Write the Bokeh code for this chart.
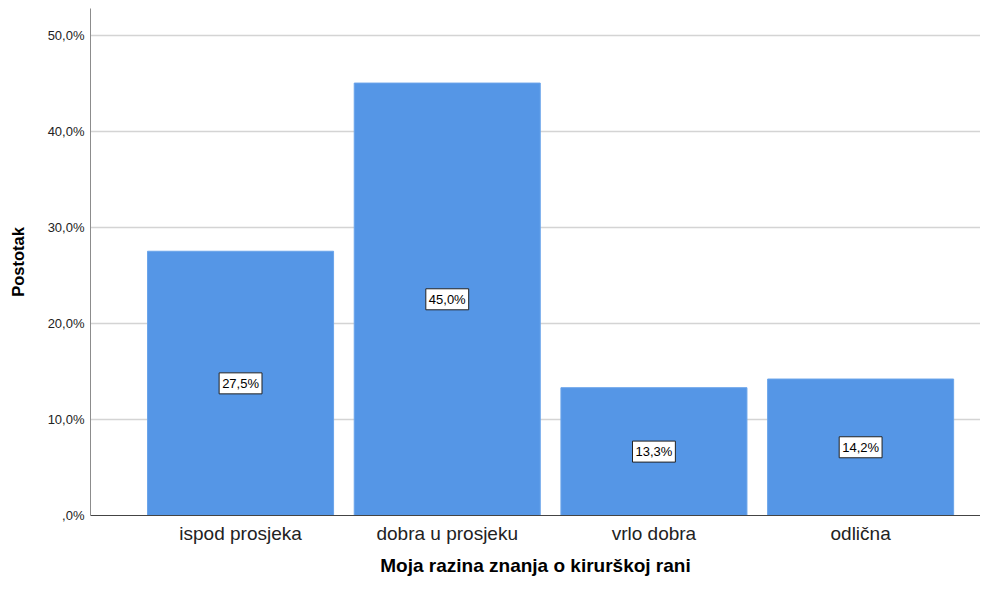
from bokeh.plotting import figure
from bokeh.models import ColumnDataSource, FixedTicker, Label, Range1d
from bokeh.embed import file_html
from bokeh.resources import INLINE

categories = ["ispod prosjeka", "dobra u prosjeku", "vrlo dobra", "odlična"]
values = [27.5, 45.0, 13.3, 14.2]
y_ticks = [0, 10, 20, 30, 40, 50]
y_tick_labels = [",0%", "10,0%", "20,0%", "30,0%", "40,0%", "50,0%"]

xs = list(range(len(categories)))
src = ColumnDataSource(dict(x=xs, top=values))

p = figure(width=980, height=578, output_backend="svg", toolbar_location=None,
           x_range=Range1d(-0.726, 3.58), y_range=Range1d(0, 52.76),
           min_border_left=90, min_border_right=0, min_border_top=8, min_border_bottom=62)
p.outline_line_color = None

p.vbar(x="x", top="top", width=0.9, source=src, fill_color="#5596E6", line_color="#6aa4ea", line_width=1)

for x, v in zip(xs, values):
    p.add_layout(Label(x=x, y=v / 2, text=("%.1f%%" % v).replace(".", ","),
                       text_align="center", text_baseline="middle",
                       text_font="Liberation Sans", text_font_size="13px", text_color="#000000",
                       background_fill_color="white", border_line_color="#222222",
                       border_line_width=1, padding=3))

p.xaxis.ticker = FixedTicker(ticks=xs)
p.xaxis.major_label_overrides = {i: c for i, c in enumerate(categories)}
p.yaxis.ticker = FixedTicker(ticks=y_ticks)
p.yaxis.major_label_overrides = {t: l for t, l in zip(y_ticks, y_tick_labels)}

p.xaxis.axis_label = "Moja razina znanja o kirurškoj rani"
p.yaxis.axis_label = "Postotak"

for ax in (p.xaxis[0], p.yaxis[0]):
    ax.major_tick_out = 0
    ax.major_tick_in = 0
    ax.minor_tick_out = 0
    ax.minor_tick_in = 0
    ax.axis_label_text_font = "Liberation Sans"
    ax.axis_label_text_font_style = "bold"
    ax.axis_label_text_color = "#000000"
    ax.major_label_text_font = "Liberation Sans"

p.xaxis.axis_line_color = "#444444"
p.xaxis.major_label_text_font_size = "19px"
p.xaxis.major_label_text_color = "#222222"
p.xaxis.major_label_standoff = 7
p.xaxis.axis_label_text_font_size = "19px"
p.xaxis.axis_label_standoff = 8

p.yaxis.axis_line_color = "#8c8c8c"
p.yaxis.major_label_text_font_size = "13px"
p.yaxis.major_label_text_color = "#222222"
p.yaxis.major_label_standoff = 6
p.yaxis.axis_label_text_font_size = "16.5px"
p.yaxis.axis_label_standoff = 18

p.xgrid.grid_line_color = None
p.ygrid.grid_line_color = "#d4d4d4"
p.ygrid.grid_line_width = 1.5

open("out.html", "w").write(file_html(p, INLINE))
